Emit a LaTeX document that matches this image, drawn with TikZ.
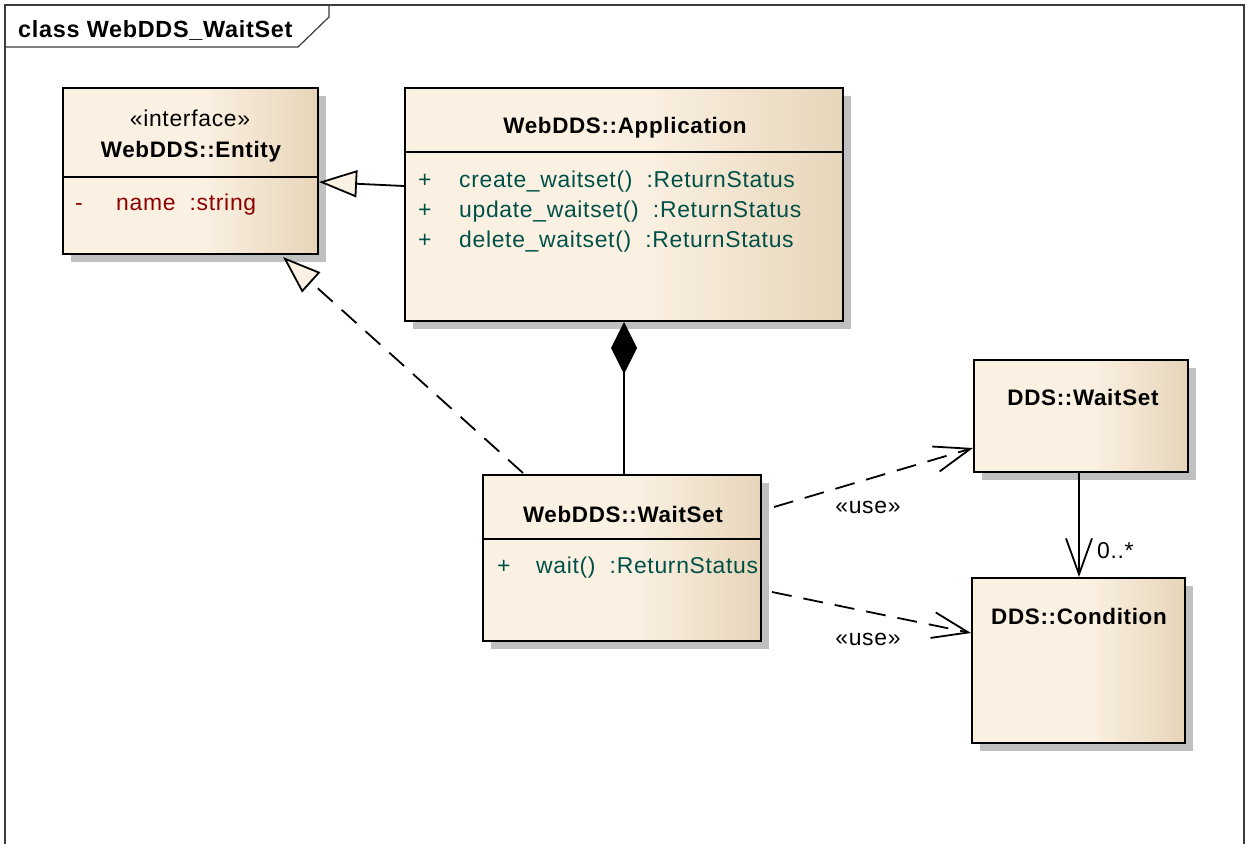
\documentclass[tikz,border=0pt]{standalone}
\usepackage{fontspec}
\setmainfont{Liberation Sans}[LetterSpace=3.0]
\usetikzlibrary{arrows.meta,shadows,calc}
\definecolor{cream}{RGB}{251,241,227}
\definecolor{tanc}{RGB}{231,213,185}
\definecolor{shadowgray}{RGB}{192,192,192}
\definecolor{attrred}{RGB}{140,0,0}
\definecolor{opteal}{RGB}{0,80,72}
\definecolor{framec}{RGB}{60,60,60}
\pgfdeclarehorizontalshading{boxshade}{100bp}{color(0bp)=(cream); color(52bp)=(cream); color(75bp)=(tanc); color(100bp)=(tanc)}
\tikzset{
  umlbox/.style={rectangle, draw=black, line width=2bp, shade, shading=boxshade,
    drop shadow={shadow xshift=8bp, shadow yshift=-8bp, fill=shadowgray, opacity=1},
    inner sep=0pt, anchor=north west},
  divider/.style={line width=2bp, black},
  bt/.style={font=\fontsize{22.5}{26}\selectfont\bfseries, inner sep=0pt, anchor=base},
  rt/.style={font=\fontsize{23}{27}\selectfont, inner sep=0pt, anchor=base west},
  ct/.style={font=\fontsize{23}{27}\selectfont, inner sep=0pt, anchor=base},
  attr/.style={rt, text=attrred},
  oper/.style={rt, text=opteal},
  conn/.style={line width=1.8bp, black, line join=miter},
  dashline/.style={dash pattern=on 20bp off 12bp},
  hollowtri/.style={-{Triangle[length=38bp,width=27bp,fill=cream,line join=miter]}},
  openarrow/.style={-{Straight Barb[length=36bp,width=26bp]}},
  composite/.style={{Diamond[length=52bp,width=26bp]}-},
}
\begin{document}
\begin{tikzpicture}[x=1bp,y=-1bp]
\useasboundingbox (0,0) rectangle (1248,844);
% frame
\draw[line width=1.2bp, framec] (5,844) -- (5,5) -- (1244,5) -- (1244,844);
\draw[line width=1.2bp, framec] (5,47) -- (298,47) -- (329,17) -- (329,5);
\node[font=\fontsize{23.5}{27}\selectfont\bfseries, inner sep=0pt, anchor=base west] (frameT) at (18,37) {class WebDDS\_WaitSet};

% boxes
\node[umlbox, minimum width=255bp, minimum height=166bp] (ent) at (62,87) {};
\node[umlbox, minimum width=438bp, minimum height=233bp] (app) at (404,87) {};
\node[umlbox, minimum width=278bp, minimum height=166bp] (ws) at (482,474) {};
\node[umlbox, minimum width=214bp, minimum height=112bp] (dws) at (973,359) {};
\node[umlbox, minimum width=213bp, minimum height=165bp] (cond) at (971,577) {};

% dividers
\draw[divider] (ent.west |- 0,177) -- (ent.east |- 0,177);
\draw[divider] (app.west |- 0,152) -- (app.east |- 0,152);
\draw[divider] (ws.west |- 0,539) -- (ws.east |- 0,539);

% texts: Entity
\node[ct] (entS) at (190,126) {«interface»};
\node[bt] (entT) at (191,157) {WebDDS::Entity};
\node[attr] (entA1) at (75,210) {-};
\node[attr] (entA2) at (116,210) {name\ \ :string};
% Application
\node[bt] (appT) at (625,133) {WebDDS::Application};
\node[oper] (appP1) at (418,187) {+};
\node[oper] (appO1) at (459,187) {create\_waitset()\ \ :ReturnStatus};
\node[oper] (appP2) at (418,217) {+};
\node[oper] (appO2) at (459,217) {update\_waitset()\ \ :ReturnStatus};
\node[oper] (appP3) at (418,247) {+};
\node[oper] (appO3) at (459,247) {delete\_waitset()\ \ :ReturnStatus};
% WaitSet
\node[bt] (wsT) at (623,522) {WebDDS::WaitSet};
\node[oper] (wsP1) at (497,573) {+};
\node[oper] (wsO1) at (536,573) {wait()\ \ :ReturnStatus};
% DDS
\node[bt] (dwsT) at (1083,405) {DDS::WaitSet};
\node[bt] (condT) at (1079,624) {DDS::Condition};

% connectors
\draw[conn, hollowtri] ($(app.north west)+(0,99)$) -- ($(ent.north east)+(0,95)$);
\draw[conn, dashline, hollowtri] ($(ws.north west)+(41,-1)$) -- ($(ent.south west)+(221,2)$);
\draw[conn, composite] (app.south) -- (app.south |- ws.north);
\draw[conn, dashline, openarrow] ($(ws.north east)+(12,33)$) -- ($(dws.north west)+(0,89)$);
\draw[conn, dashline, openarrow] ($(ws.north east)+(10,118)$) -- ($(cond.north west)+(0,56)$);
\draw[conn, openarrow] ($(dws.south)+(-2,0)$) -- ($(cond.north)+(0.5,0)$);

% labels
\node[ct] (use1) at (868,513) {«use»};
\node[ct] (use2) at (868,645) {«use»};
\node[rt] (mult) at (1097,558) {0..*};
\end{tikzpicture}
\end{document}
